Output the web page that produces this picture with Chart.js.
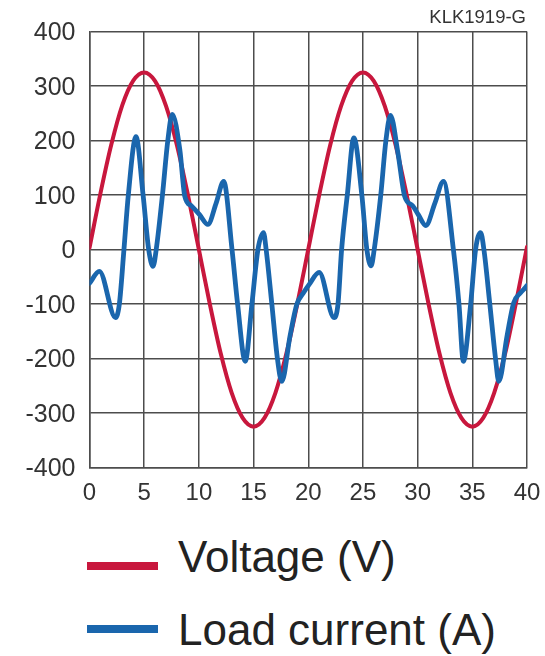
<!DOCTYPE html>
<html>
<head>
<meta charset="utf-8">
<script src="https://cdn.jsdelivr.net/npm/chart.js@4.4.1/dist/chart.umd.min.js"></script>
<style>
  html, body { margin: 0; padding: 0; background: #fff; }
  #wrap { position: relative; width: 545px; height: 656px; font-family: "Liberation Sans", Arial, sans-serif; }
  #chart { position: absolute; left: 0; top: 0; }
  .code { position: absolute; right: 19px; top: 8px; font-size: 18.5px; line-height: 1; color: #333; }
  .key { position: absolute; left: 87px; width: 71px; height: 8px; }
  .lbl { position: absolute; left: 178px; font-size: 44px; line-height: 1; color: #222; white-space: nowrap; }
</style>
</head>
<body>
<div id="wrap">
  <canvas id="chart" width="545" height="520"></canvas>
  <div class="code">KLK1919-G</div>
  <div class="key" style="top:562px;background:#c8173d"></div>
  <div class="lbl" style="top:535px">Voltage (V)</div>
  <div class="key" style="top:625px;background:#1a66ad"></div>
  <div class="lbl" style="top:608px">Load current (A)</div>
</div>
<script>
// time in ms
const voltT = [0,1,2,3,4,5,6,7,8,9,10,11,12,13,14,15,16,17,18,19,20,21,22,23,24,25,26,27,28,29,30,31,32,33,34,35,36,37,38,39,40];
const voltV = [3,103,193,265,310,325,309,263,191,100,0,-100,-191,-263,-309,-325,-309,-263,-191,-100,0,100,191,263,309,325,309,263,191,100,0,-100,-191,-263,-309,-325,-309,-263,-191,-97,5];

const currT = [0,0.9,2.38,2.73,3.15,3.55,4.25,4.9,5.41,5.81,6.1,6.67,7.16,7.57,8.26,8.71,9.32,10.06,10.82,11.58,12.27,13.03,13.54,14.24,14.85,15.4,15.91,16.15,16.67,17.18,17.58,18.34,18.95,19.55,
  20.09,21.0,22.36,22.72,23.05,23.57,24.17,24.9,25.36,25.75,26.03,26.63,27.1,27.52,28.2,28.81,29.56,30.06,30.75,31.58,32.36,33.27,33.78,34.18,34.85,35.3,35.76,36.06,36.6,37.12,37.42,38.18,38.78,39.39,39.85,40];
const currA = [-62,-40,-125,-100,0,100,207,100,0,-31,0,100,200,248,183,98,80,64,46,85,125,0,-100,-205,-100,0,31,0,-100,-200,-242,-158,-101,-80,
  -64,-42,-125,-100,0,100,205,100,0,-30,0,100,200,246,177,98,80,64,44,85,125,0,-100,-205,-100,0,31,0,-100,-200,-242,-158,-98,-80,-70,-66];

const xTicks = [0,5,10,15,20,25,30,35,40];
const yTicks = [-400,-300,-200,-100,0,100,200,300,400];

const gridCol = '#4d4d4d';
const tickFont = { family: '"Liberation Sans", Arial, sans-serif' };

new Chart(document.getElementById('chart'), {
  type: 'line',
  data: {
    datasets: [
      {
        label: 'Voltage (V)',
        data: voltT.map((t, i) => ({ x: t, y: voltV[i] })),
        borderColor: '#c8173d',
        borderWidth: 4,
        pointRadius: 0,
        cubicInterpolationMode: 'monotone',
        borderCapStyle: 'round',
        borderJoinStyle: 'round',
        order: 2
      },
      {
        label: 'Load current (A)',
        data: currT.map((t, i) => ({ x: t, y: currA[i] })),
        borderColor: '#1a66ad',
        borderWidth: 4.8,
        pointRadius: 0,
        cubicInterpolationMode: 'monotone',
        borderCapStyle: 'round',
        borderJoinStyle: 'round',
        order: 1
      }
    ]
  },
  options: {
    responsive: false,
    animation: false,
    layout: { padding: { top: 31.5, right: 18, left: 0, bottom: 0 } },
    plugins: { legend: { display: false }, tooltip: { enabled: false } },
    scales: {
      x: {
        type: 'linear',
        min: xTicks[0],
        max: xTicks[xTicks.length - 1],
        afterBuildTicks: s => { s.ticks = xTicks.map(v => ({ value: v })); },
        afterFit: s => { s.height = 52.5; s.paddingLeft = 0; s.paddingRight = 0; },
        ticks: { padding: 11, maxRotation: 0, autoSkip: false, color: '#333', font: { ...tickFont, size: 24 } },
        grid: { color: gridCol, lineWidth: 1.5, drawTicks: false },
        border: { color: gridCol, width: 1.5 }
      },
      y: {
        type: 'linear',
        min: yTicks[0],
        max: yTicks[yTicks.length - 1],
        afterBuildTicks: s => { s.ticks = yTicks.map(v => ({ value: v })); },
        afterFit: s => { s.width = 89.5; },
        ticks: { padding: 14, labelOffset: 2, autoSkip: false, color: '#333', font: { ...tickFont, size: 25 } },
        grid: { color: gridCol, lineWidth: 1.5, drawTicks: false },
        border: { color: gridCol, width: 1.5 }
      }
    }
  }
});
</script>
</body>
</html>
